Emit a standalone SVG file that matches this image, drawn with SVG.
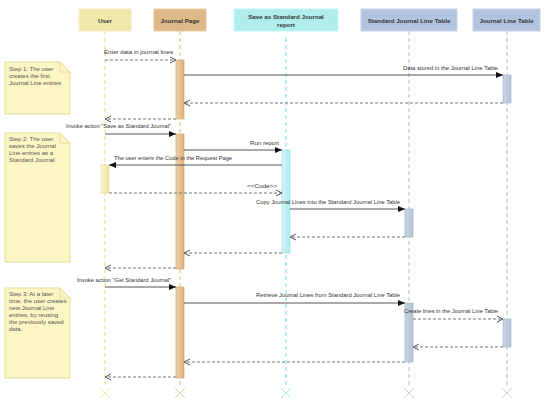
<svg xmlns="http://www.w3.org/2000/svg" width="550" height="402" viewBox="0 0 550 402">
<defs>
<style>
.hdr{font-family:"Liberation Sans",Arial,sans-serif;font-size:6.2px;font-weight:bold;fill:#333;text-anchor:middle}
.lbl{font-family:"Liberation Sans",Arial,sans-serif;font-size:6px;fill:#333}
.note{font-family:"Liberation Sans",Arial,sans-serif;font-size:6px;fill:#555}
.sol{stroke:#555;stroke-width:1;fill:none}
.dsh{stroke:#777;stroke-width:1;stroke-dasharray:3,2;fill:none}
.ll{stroke-width:1.5;stroke-dasharray:4,3;fill:none}
.notebox{fill:#fcf6c4;stroke:#e6dc98;stroke-width:1}
</style>
<marker id="fill" markerUnits="userSpaceOnUse" markerWidth="8" markerHeight="8" refX="7" refY="4" orient="auto"><path d="M0,1 L7,4 L0,7 Z" fill="#111"/></marker>
<marker id="open" markerUnits="userSpaceOnUse" markerWidth="8" markerHeight="8" refX="7" refY="4" orient="auto"><path d="M1,1 L7,4 L1,7" fill="none" stroke="#555" stroke-width="1"/></marker>
<linearGradient id="gJP" x1="0" x2="1" y1="0" y2="0"><stop offset="0" stop-color="#ebd0ac"/><stop offset="1" stop-color="#dcb07e"/></linearGradient>
<linearGradient id="gSR" x1="0" x2="1" y1="0" y2="0"><stop offset="0" stop-color="#d4f6f6"/><stop offset="1" stop-color="#aeeaea"/></linearGradient>
<linearGradient id="gTB" x1="0" x2="1" y1="0" y2="0"><stop offset="0" stop-color="#c8d4e0"/><stop offset="1" stop-color="#b4c4d4"/></linearGradient>
<linearGradient id="gU" x1="0" x2="1" y1="0" y2="0"><stop offset="0" stop-color="#f8f2cc"/><stop offset="1" stop-color="#f0e6a8"/></linearGradient>
</defs>
<rect width="550" height="402" fill="#fff"/>

<g id="lifelines">
<line class="ll" x1="105" y1="31" x2="105" y2="386" stroke="#f2e8a8"/>
<line class="ll" x1="180" y1="31" x2="180" y2="386" stroke="#f0d0a8"/>
<line class="ll" x1="286" y1="38" x2="286" y2="386" stroke="#a8e8ec"/>
<line class="ll" x1="409" y1="31" x2="409" y2="386" stroke="#c4d4e8"/>
<line class="ll" x1="507" y1="31" x2="507" y2="386" stroke="#c4d4e8"/>
<path d="M100,388 L110,398 M110,388 L100,398" stroke="#f2e8a8" stroke-width="1"/>
<path d="M175,388 L185,398 M185,388 L175,398" stroke="#f0d0a8" stroke-width="1"/>
<path d="M281,388 L291,398 M291,388 L281,398" stroke="#a8e8ec" stroke-width="1"/>
<path d="M404,388 L414,398 M414,388 L404,398" stroke="#c4d4e8" stroke-width="1"/>
<path d="M502,388 L512,398 M512,388 L502,398" stroke="#c4d4e8" stroke-width="1"/>
</g>

<g id="user">
<rect x="79" y="9" width="52" height="22" fill="#f0e8aa" stroke="#f4eec0" stroke-width="1"/>
<text class="hdr" x="105" y="22.5">User</text>
</g>
<g id="journal-page">
<rect x="154" y="9" width="52" height="22" fill="#deb887" stroke="#e8caa0" stroke-width="1"/>
<text class="hdr" x="180" y="22.5">Journal Page</text>
</g>
<g id="save-report">
<rect x="234" y="9" width="104" height="22" fill="#b0eeee" stroke="#c4f4f4" stroke-width="1"/>
<text class="hdr" x="286" y="19">Save as Standard Journal</text>
<text class="hdr" x="286" y="26.5">report</text>
</g>
<g id="std-journal-line-table">
<rect x="361" y="9" width="96" height="22" fill="#b0c4de" stroke="#c4d4e8" stroke-width="1"/>
<text class="hdr" x="409" y="22.5">Standard Journal Line Table</text>
</g>
<g id="journal-line-table">
<rect x="473" y="9" width="67" height="22" fill="#b0c4de" stroke="#c4d4e8" stroke-width="1"/>
<text class="hdr" x="506.5" y="22.5">Journal Line Table</text>
</g>

<g id="activations">
<rect x="176" y="60" width="8" height="59" fill="url(#gJP)" stroke="#d8aa70" stroke-width="0.7"/>
<rect x="503" y="75" width="8" height="28" fill="url(#gTB)" stroke="#a4b8cc" stroke-width="0.7"/>
<rect x="176" y="134" width="8" height="135" fill="url(#gJP)" stroke="#d8aa70" stroke-width="0.7"/>
<rect x="282" y="150" width="8" height="103" fill="url(#gSR)" stroke="#a0e4e8" stroke-width="0.7"/>
<rect x="101" y="165" width="8" height="28" fill="url(#gU)" stroke="#ece0a0" stroke-width="0.7"/>
<rect x="405" y="209" width="8" height="28" fill="url(#gTB)" stroke="#a4b8cc" stroke-width="0.7"/>
<rect x="176" y="287" width="8" height="91" fill="url(#gJP)" stroke="#d8aa70" stroke-width="0.7"/>
<rect x="405" y="303" width="8" height="59" fill="url(#gTB)" stroke="#a4b8cc" stroke-width="0.7"/>
<rect x="503" y="319" width="8" height="28" fill="url(#gTB)" stroke="#a4b8cc" stroke-width="0.7"/>
</g>

<g id="connectors">
<line class="dsh" x1="105" y1="60" x2="176" y2="60" marker-end="url(#open)"/>
<line class="sol" x1="184" y1="75" x2="503" y2="75" marker-end="url(#fill)"/>
<line class="dsh" x1="503" y1="103" x2="184" y2="103" marker-end="url(#open)"/>
<line class="dsh" x1="176" y1="119" x2="105" y2="119" marker-end="url(#open)"/>
<line class="sol" x1="105" y1="134" x2="176" y2="134" marker-end="url(#fill)"/>
<line class="sol" x1="184" y1="150" x2="282" y2="150" marker-end="url(#fill)"/>
<line class="sol" x1="282" y1="165" x2="109" y2="165" marker-end="url(#fill)"/>
<line class="dsh" x1="109" y1="193" x2="282" y2="193" marker-end="url(#open)"/>
<line class="sol" x1="290" y1="209" x2="405" y2="209" marker-end="url(#fill)"/>
<line class="dsh" x1="405" y1="237" x2="290" y2="237" marker-end="url(#open)"/>
<line class="dsh" x1="282" y1="253" x2="184" y2="253" marker-end="url(#open)"/>
<line class="dsh" x1="176" y1="268" x2="105" y2="268" marker-end="url(#open)"/>
<line class="sol" x1="105" y1="287" x2="176" y2="287" marker-end="url(#fill)"/>
<line class="sol" x1="184" y1="303" x2="405" y2="303" marker-end="url(#fill)"/>
<line class="dsh" x1="413" y1="319" x2="503" y2="319" marker-end="url(#open)"/>
<line class="dsh" x1="503" y1="347" x2="413" y2="347" marker-end="url(#open)"/>
<line class="dsh" x1="405" y1="362" x2="184" y2="362" marker-end="url(#open)"/>
<line class="dsh" x1="176" y1="377" x2="105" y2="377" marker-end="url(#open)"/>

<text class="lbl" x="104" y="54" textLength="69" lengthAdjust="spacingAndGlyphs">Enter data in journal lines</text>
<text class="lbl" x="403" y="70" textLength="95" lengthAdjust="spacingAndGlyphs">Data stored in the Journal Line Table</text>
<text class="lbl" x="66" y="128" textLength="105" lengthAdjust="spacingAndGlyphs">Invoke action "Save as Standard Journal"</text>
<text class="lbl" x="250" y="145" textLength="29" lengthAdjust="spacingAndGlyphs">Run report</text>
<text class="lbl" x="114" y="160" textLength="118" lengthAdjust="spacingAndGlyphs">The user enters the Code in the Request Page</text>
<text class="lbl" x="247" y="188" textLength="30" lengthAdjust="spacingAndGlyphs">&lt;&lt;Code&gt;&gt;</text>
<text class="lbl" x="256" y="204" textLength="144" lengthAdjust="spacingAndGlyphs">Copy Journal Lines into the Standard Journal Line Table</text>
<text class="lbl" x="77" y="282" textLength="94" lengthAdjust="spacingAndGlyphs">Invoke action "Get Standard Journal"</text>
<text class="lbl" x="256" y="297" textLength="144" lengthAdjust="spacingAndGlyphs">Retrieve Journal Lines from Standard Journal Line Table</text>
<text class="lbl" x="404" y="313" textLength="94" lengthAdjust="spacingAndGlyphs">Create lines in the Journal Line Table</text>
</g>

<g id="note1">
<path class="notebox" d="M5,62 L60,62 L70,72 L70,114 L5,114 Z"/>
<path d="M60,62 L60,72 L70,72" fill="none" stroke="#e6dc98" stroke-width="1"/>
<text class="note" x="9" y="71">Step 1: The user</text>
<text class="note" x="9" y="78">creates the first</text>
<text class="note" x="9" y="85">Journal Line entries</text>
</g>
<g id="note2">
<path class="notebox" d="M5,133 L60,133 L70,143 L70,262 L5,262 Z"/>
<path d="M60,133 L60,143 L70,143" fill="none" stroke="#e6dc98" stroke-width="1"/>
<text class="note" x="9" y="141">Step 2: The user</text>
<text class="note" x="9" y="148">saves the Journal</text>
<text class="note" x="9" y="155">Line entries  as a</text>
<text class="note" x="9" y="162">Standard Journal</text>
</g>
<g id="note3">
<path class="notebox" d="M5,288 L60,288 L70,298 L70,378 L5,378 Z"/>
<path d="M60,288 L60,298 L70,298" fill="none" stroke="#e6dc98" stroke-width="1"/>
<text class="note" x="9" y="296">Step 3: At a later</text>
<text class="note" x="9" y="303">time, the user creates</text>
<text class="note" x="9" y="310">new Journal Line</text>
<text class="note" x="9" y="317">entries, by reusing</text>
<text class="note" x="9" y="324">the previously saved</text>
<text class="note" x="9" y="331">data.</text>
</g>
</svg>
